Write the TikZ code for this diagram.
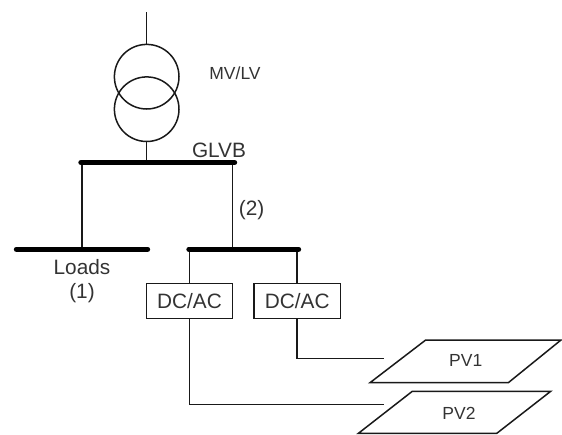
\documentclass[tikz,border=0pt]{standalone}
\usepackage{fontspec}
\setmainfont{Liberation Sans}
\tikzset{
  wire/.style={draw=black!90,line width=1.5pt},
  busbar/.style={draw=black,line width=5.4pt,line cap=round},
  winding/.style={circle,draw=black!90,line width=1.5pt,minimum size=64.6pt,inner sep=0pt,outer sep=0pt},
  conv/.style={rectangle,draw=black!90,line width=1.5pt,minimum width=86.4pt,minimum height=35.4pt,inner sep=0pt,outer sep=0pt,text=black!80,font=\fontsize{20.8}{22}\selectfont},
  lab/.style={inner sep=0pt,text=black!80,font=\fontsize{20.8}{22}\selectfont},
  smalllab/.style={inner sep=0pt,text=black!80,font=\fontsize{17.5}{20}\selectfont},
  panel/.style={draw=black!90,line width=1.5pt,line join=miter}
}
\begin{document}
\begin{tikzpicture}[x=1pt,y=-1pt]
\useasboundingbox (0,0) rectangle (562,434);
% coordinates
\coordinate (feed) at (146.7,12);
\coordinate (gl) at (81,162.5);
\coordinate (gr) at (234.5,162.5);
\coordinate (gt) at (146.7,162.5);
\coordinate (ga) at (82,162.5);
\coordinate (gb) at (232.7,162.5);
\coordinate (ll) at (16.5,249.3);
\coordinate (lr) at (147.5,249.3);
\coordinate (lt) at (82,249.3);
\coordinate (dl) at (189,249.3);
\coordinate (dr) at (298.5,249.3);
\coordinate (dt) at (232.7,249.3);
\coordinate (da) at (189.5,249.3);
\coordinate (db) at (297.2,249.3);
\coordinate (pvoneport) at (383.5,358.7);
\coordinate (pvtwoport) at (383.5,404.6);
% transformer
\node[winding] (tone) at (146.7,76.7) {};
\node[winding] (ttwo) at (146.7,109.2) {};
\draw[wire] (feed) -- (tone.north);
\draw[wire] (ttwo.south) -- (gt);
% converters
\node[conv] (cone) at (189.5,301) {DC/AC};
\node[conv] (ctwo) at (297.2,301) {DC/AC};
% wires
\draw[wire] (ga) -- (lt);
\draw[wire] (gb) -- (dt);
\draw[wire] (da) -- (cone.north);
\draw[wire] (db) -- (ctwo.north);
\draw[wire,line join=miter] (ctwo.south) |- (pvoneport);
\draw[wire,line join=miter] (cone.south) |- (pvtwoport);
% busbars
\draw[busbar] (gl) -- (gr);
\draw[busbar] (ll) -- (lr);
\draw[busbar] (dl) -- (dr);
% PV panels
\draw[panel] (425.7,340) -- (561,340) -- (508.3,382.7) -- (370,382.7) -- cycle;
\draw[panel] (412.3,391.3) -- (550.7,391.3) -- (496.7,433.4) -- (358.3,433.4) -- cycle;
% labels
\node[smalllab] (mvlv) at (235,73) {MV/LV};
\node[lab] (glvb) at (219,150) {GLVB};
\node[lab] (two) at (251.7,210) {(2)};
\node[lab] (loads) at (82,267) {Loads};
\node[lab] (one) at (82,293) {(1)};
\node[smalllab] (pvone) at (465.7,360) {PV1};
\node[smalllab] (pvtwo) at (459,413) {PV2};
\end{tikzpicture}
\end{document}
